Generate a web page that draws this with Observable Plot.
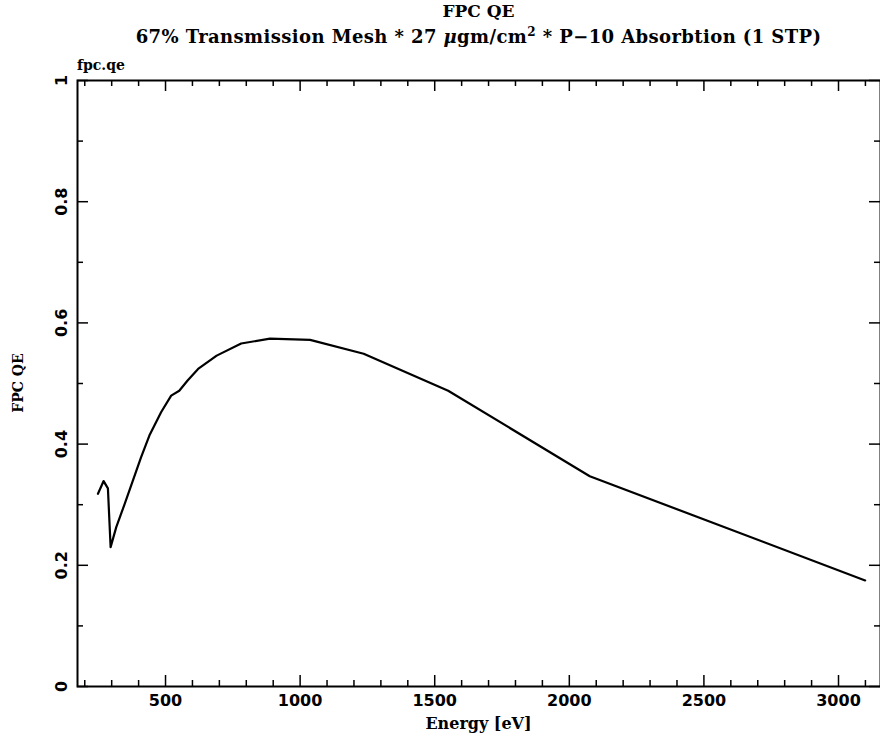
<!DOCTYPE html>
<html><head><meta charset="utf-8">
<script src="https://cdn.jsdelivr.net/npm/d3@7"></script>
<script src="https://cdn.jsdelivr.net/npm/@observablehq/plot@0.6"></script>
<style>
body{margin:0;background:#fff;}
#wrap{position:relative;width:880px;height:740px;font-family:"DejaVu Serif",serif;font-weight:bold;color:#000;}
.t{position:absolute;white-space:nowrap;line-height:1;}
#chart{position:absolute;left:0;top:0;}
</style></head><body><div id="wrap">
<div id="chart"></div>
<div class="t" id="title" style="top:3px;left:77px;width:803px;text-align:center;font-size:17px;">FPC QE</div>
<div class="t" id="subtitle" style="top:26px;left:77px;width:803px;text-align:center;font-size:18px;letter-spacing:0.4px;">67% Transmission Mesh * 27 <i>μ</i>gm/cm<sup style="font-size:12px;">2</sup> * P−10 Absorbtion (1 STP)</div>
<div class="t" id="name" style="top:58px;left:77px;font-size:14px;">fpc.qe</div>
<div class="t" id="xlabel" style="top:716px;left:77px;width:803px;text-align:center;font-size:16px;">Energy [eV]</div>
<div class="t" id="ylabel" style="top:376px;left:-32px;width:100px;text-align:center;font-size:14px;transform:rotate(-90deg);">FPC QE</div>
</div>
<script>
const energy = [249, 270, 286, 296, 317, 348, 379, 409, 440, 484, 521, 551, 582, 621, 690, 781, 888, 1037, 1236, 1550, 2076, 3099];
const qe = [0.318, 0.339, 0.327, 0.230, 0.263, 0.301, 0.340, 0.378, 0.414, 0.453, 0.480, 0.488, 0.505, 0.524, 0.546, 0.566, 0.574, 0.572, 0.549, 0.488, 0.347, 0.175];
const xMajor = [500, 1000, 1500, 2000, 2500, 3000];
const xMinor = [200, 300, 400, 600, 700, 800, 900, 1100, 1200, 1300, 1400, 1600, 1700, 1800, 1900, 2100, 2200, 2300, 2400, 2600, 2700, 2800, 2900, 3100];
const yMajor = [0, 0.2, 0.4, 0.6, 0.8, 1];
const yMinor = [0.1, 0.3, 0.5, 0.7, 0.9];
const yLabels = ["0", "0.2", "0.4", "0.6", "0.8", "1"];

const pts = energy.map((e, i) => ({e, q: qe[i]}));
const W = 880, H = 740, mL = 77, mR = 0, mT = 80, mB = 54;
const fw = W - mL - mR, fh = H - mT - mB;
const big = 11, small = 6;
const tickFont = {fontFamily: "DejaVu Sans, sans-serif", fontWeight: "bold", fontSize: 16, fill: "black"};

const chart = Plot.plot({
  width: W, height: H,
  marginLeft: mL, marginRight: mR, marginTop: mT, marginBottom: mB,
  x: {domain: [173, 3156], axis: null},
  y: {domain: [0, 1], axis: null},
  style: {background: "white"},
  marks: [
    Plot.frame({stroke: "black", strokeWidth: 2}),
    Plot.tickX(xMajor, {x: d => d, insetTop: fh - big, stroke: "black", strokeWidth: 1.5}),
    Plot.tickX(xMinor, {x: d => d, insetTop: fh - small, stroke: "black", strokeWidth: 1.5}),
    Plot.tickX(xMajor, {x: d => d, insetBottom: fh - big, stroke: "black", strokeWidth: 1.5}),
    Plot.tickX(xMinor, {x: d => d, insetBottom: fh - small, stroke: "black", strokeWidth: 1.5}),
    Plot.tickY(yMajor, {y: d => d, insetRight: fw - big, stroke: "black", strokeWidth: 1.5}),
    Plot.tickY(yMinor, {y: d => d, insetRight: fw - small, stroke: "black", strokeWidth: 1.5}),
    Plot.tickY(yMajor, {y: d => d, insetLeft: fw - big, stroke: "black", strokeWidth: 1.5}),
    Plot.tickY(yMinor, {y: d => d, insetLeft: fw - small, stroke: "black", strokeWidth: 1.5}),
    Plot.text(xMajor, {x: d => d, text: d => String(d), frameAnchor: "bottom", lineAnchor: "top", dy: 8, ...tickFont}),
    Plot.text(yMajor, {y: d => d, text: (d, i) => yLabels[i], frameAnchor: "left", rotate: -90, lineAnchor: "bottom", textAnchor: "middle", dx: -11, ...tickFont}),
    Plot.line(pts, {x: "e", y: "q", stroke: "black", strokeWidth: 2.2, strokeLinejoin: "round"})
  ]
});
document.getElementById("chart").appendChild(chart);
</script>
</body></html>
